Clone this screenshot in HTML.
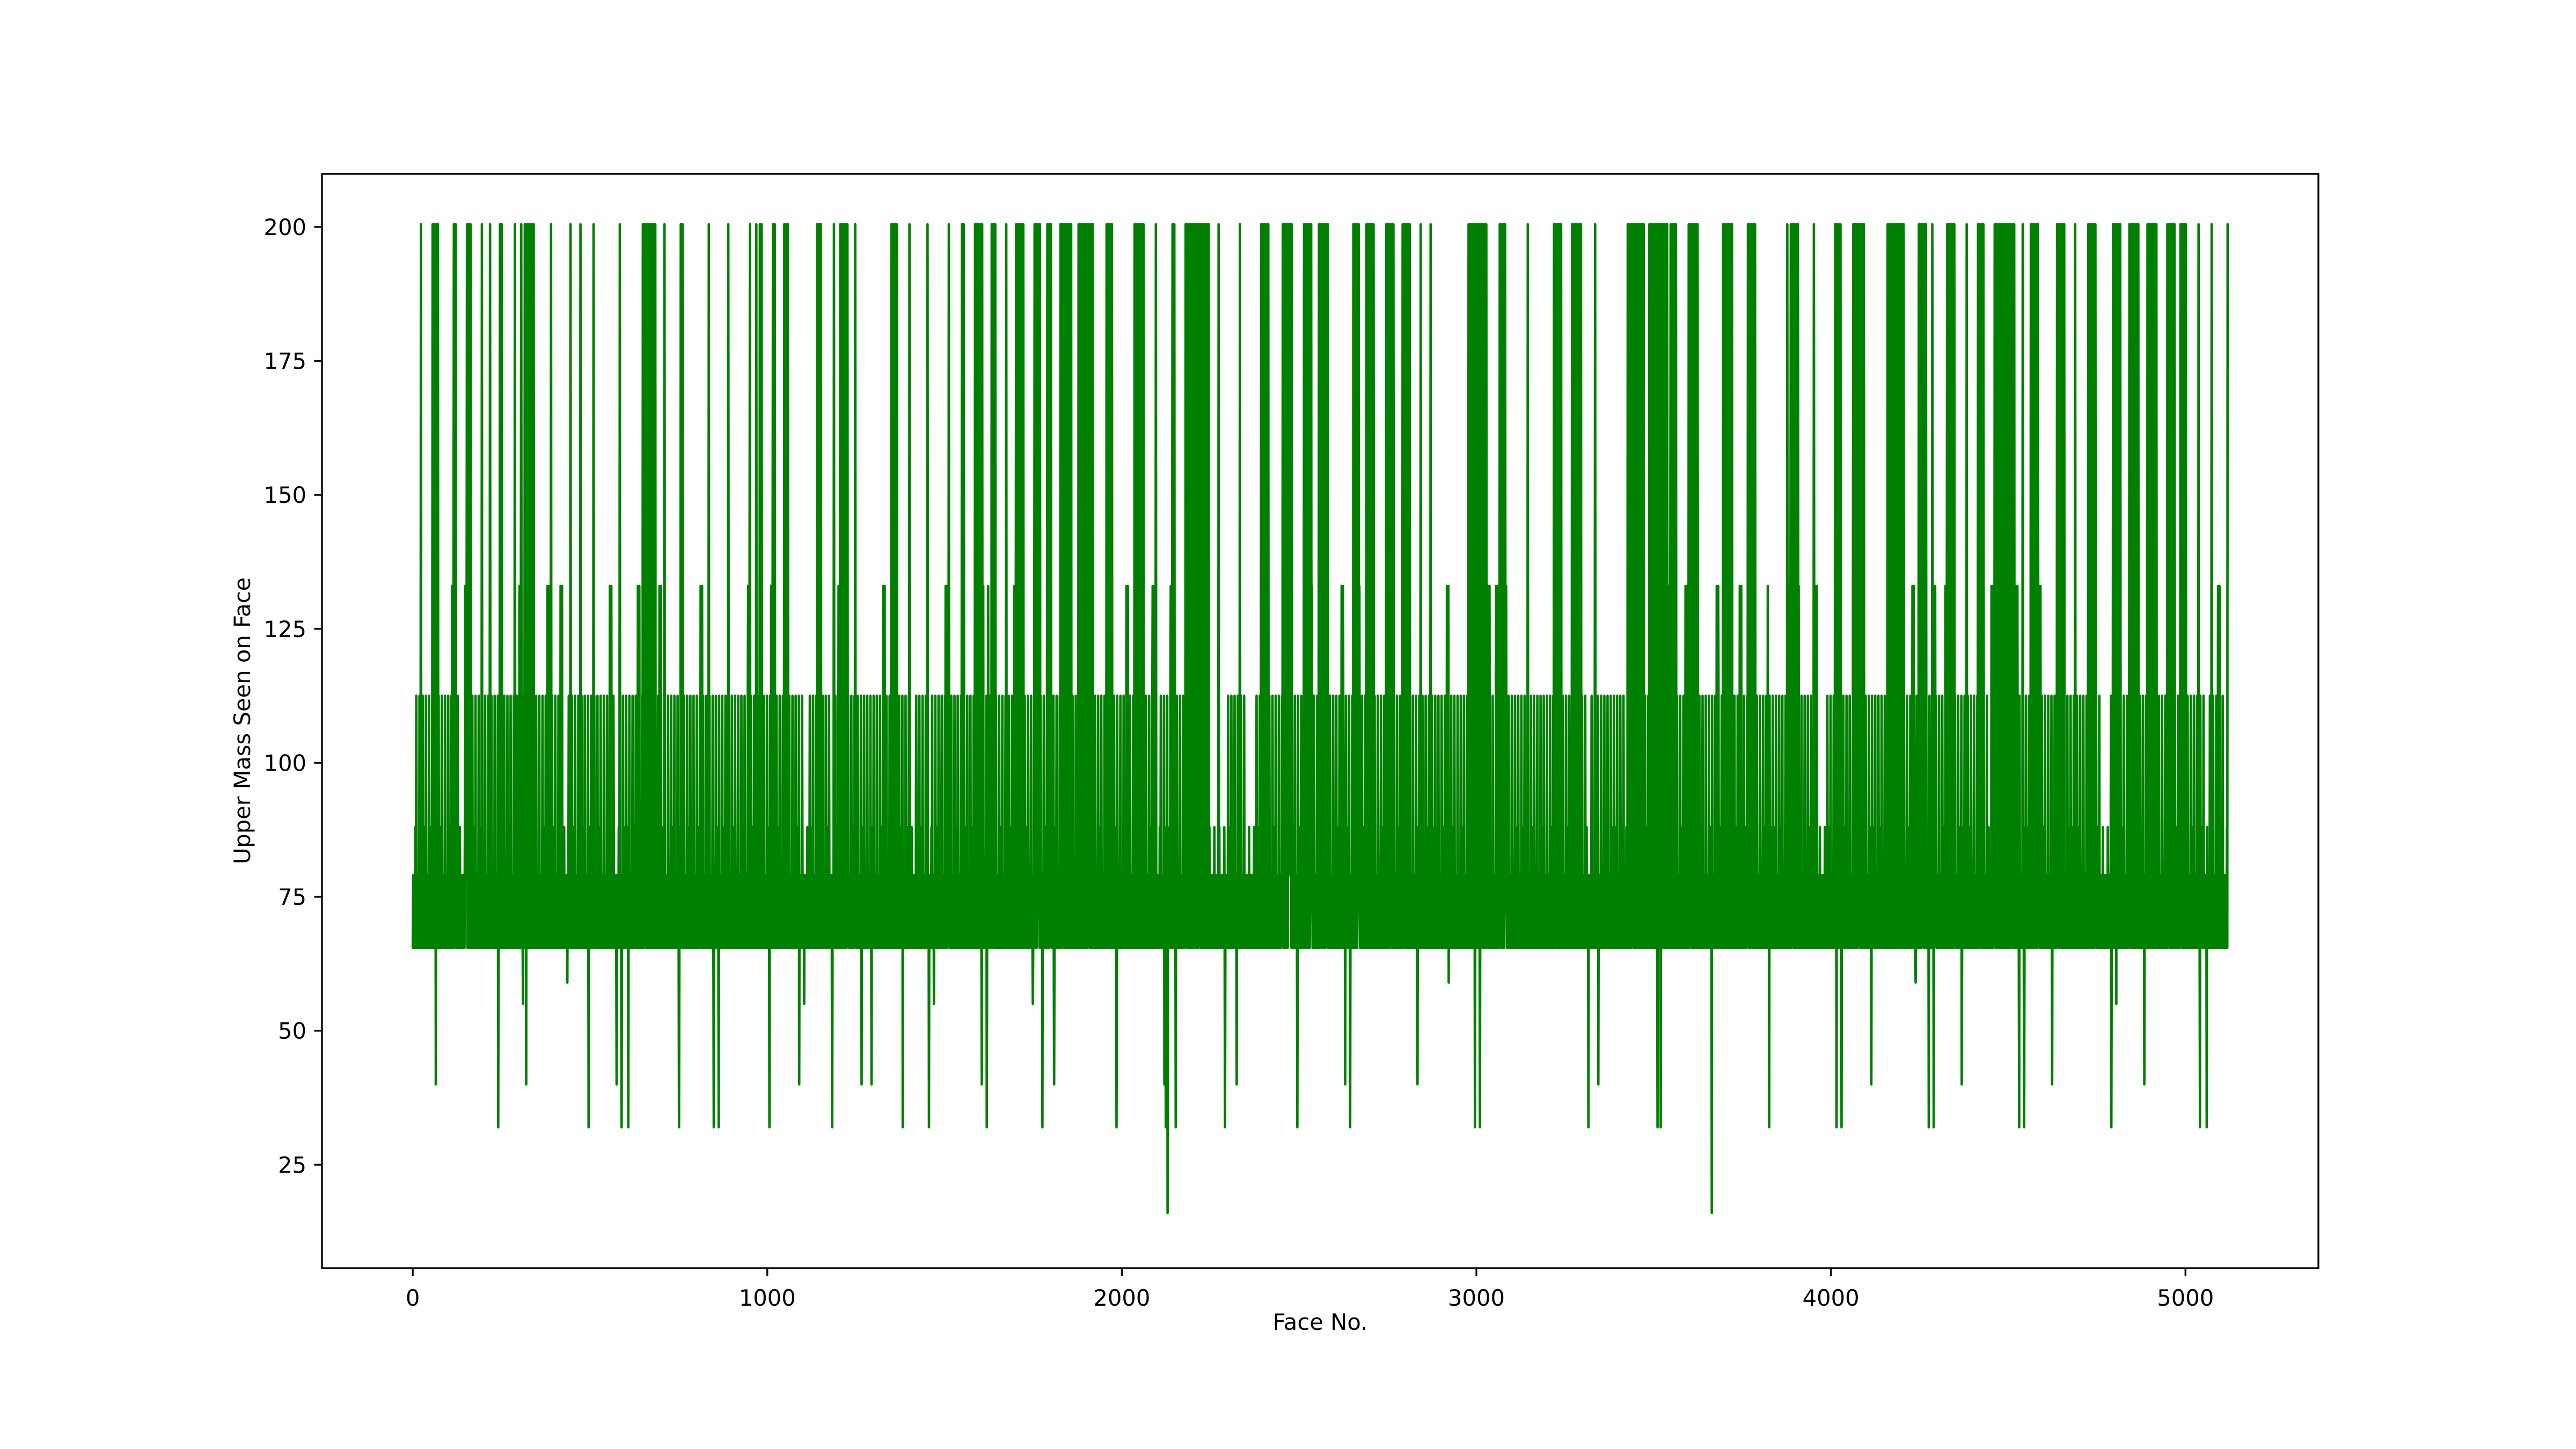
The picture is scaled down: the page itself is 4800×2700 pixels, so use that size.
<!DOCTYPE html>
<html><head><meta charset="utf-8"><style>
html,body{margin:0;padding:0;background:#fff;}
svg{display:block;}
text{font-family:"DejaVu Sans","Liberation Sans",sans-serif;font-size:41.7px;fill:#000;}
</style></head><body>
<svg id="chart" width="4800" height="2700" viewBox="0 0 4800 2700" xmlns="http://www.w3.org/2000/svg">
<rect x="0" y="0" width="4800" height="2700" fill="#fff"/>
<g id="plot"></g>
<g id="axes"></g>
<text x="2460" y="2478" text-anchor="middle">Face No.</text>
<text transform="translate(466,1343) rotate(-90)" text-anchor="middle">Upper Mass Seen on Face</text>
</svg>
<script>
// ---- data ----
const faceCount = 5120;
const basePattern = [65.5, 79, 65.5, 79, 65.5, 79, 65.5, 88, 65.5, 79, 65.5, 79, 65.5, 79];
const xTicks = [0, 1000, 2000, 3000, 4000, 5000];
const yTicks = [25, 50, 75, 100, 125, 150, 175, 200];
// bursts of spikes to 200.5: [startFace, endFace]
const burst200 = [[23,23],[56,74],[111,125],[148,167],[195,195],[218,218],[246,255],[288,288],[306,343],[390,390],[417,417],[445,445],[473,473],[510,510],[584,584],[649,686],[710,710],[756,765],[835,835],[890,890],[946,955],[969,969],[979,988],[1006,1025],[1048,1062],[1090,1090],[1141,1155],[1183,1192],[1206,1229],[1248,1248],[1350,1368],[1401,1401],[1452,1452],[1512,1512],[1549,1558],[1586,1609],[1633,1647],[1674,1674],[1697,1725],[1749,1772],[1790,1804],[1827,1860],[1878,1920],[1957,1976],[2036,2064],[2096,2096],[2138,2152],[2180,2245],[2273,2273],[2333,2333],[2393,2416],[2454,2481],[2514,2537],[2556,2583],[2620,2620],[2653,2672],[2690,2713],[2746,2769],[2792,2815],[2843,2843],[2871,2871],[2917,2917],[2978,3029],[3066,3084],[3145,3145],[3219,3242],[3270,3298],[3335,3335],[3427,3474],[3488,3567],[3599,3627],[3696,3724],[3766,3789],[3826,3826],[3877,3910],[3952,3952],[4012,4030],[4063,4095],[4160,4207],[4248,4272],[4286,4286],[4323,4350],[4383,4383],[4415,4434],[4462,4517],[4541,4541],[4564,4587],[4638,4661],[4689,4689],[4726,4749],[4796,4819],[4842,4870],[4893,4921],[4949,4972],[4986,5004],[5037,5037],[5074,5074],[5119,5119]];
const level200 = 200.5;
// bursts of spikes to 112.5
const burst112 = [[10,130],[150,420],[440,700],[720,1100],[1120,1400],[1420,2090],[2110,2250],[2300,2350],[2380,3000],[3010,3420],[3440,3960],[3990,4440],[4460,4760],[4790,5110]];
const level112 = 112.5;
// spikes to 133
const faces133 = [111,148,301,380,417,556,635,696,812,946,1011,1201,1327,1503,1605,1619,1697,1762,1911,2013,2087,2138,2472,2532,2620,2666,2755,2917,3033,3056,3080,3543,3590,3678,3743,3822,3882,3905,3956,4077,4230,4290,4323,4453,4522,4587,4800,4963,5092];
const level133 = 133;
// dips below the band
const dipFaces = [65,241,311,320,436,496,575,589,608,751,849,863,1006,1090,1104,1183,1266,1294,1382,1456,1470,1605,1619,1749,1776,1809,1985,2120,2124,2129,2152,2291,2324,2495,2630,2644,2834,2922,2996,3010,3316,3344,3511,3520,3664,3826,4016,4030,4114,4239,4276,4290,4369,4531,4545,4624,4791,4805,4884,5041,5060];
const dipValues = [40,32,55,40,59,32,40,32,32,32,32,32,32,40,55,32,40,40,32,32,55,40,32,55,32,40,32,40,32,16,32,32,40,32,40,32,40,59,32,32,32,40,32,32,16,32,32,32,40,59,32,32,40,32,32,40,32,55,40,32,32];

// ---- axes functions ----
const L=600,R=4320,T=324,B=2363;
const xMin=-256,xMax=5375,yMin=5.7,yMax=209.9;
const sx=v=>L+(v-xMin)/(xMax-xMin)*(R-L);
const sy=v=>B-(v-yMin)/(yMax-yMin)*(B-T);

// build series
const vals=[];
for(let i=0;i<faceCount;i++) vals.push(basePattern[i%basePattern.length]);
burst112.forEach(([a,b])=>{for(let i=a;i<=b;i+=9) vals[i]=level112;});
burst200.forEach(([a,b])=>{for(let i=a;i<=b;i+=5) vals[Math.min(i,faceCount-1)]=level200;});
faces133.forEach(f=>{vals[f]=level133;vals[f+4]=level133;});
dipFaces.forEach((f,k)=>{vals[f]=dipValues[k];});

const NS='http://www.w3.org/2000/svg';
const plot=document.getElementById('plot');
let pts='';
for(let i=0;i<faceCount;i++) pts+=sx(i).toFixed(2)+','+sy(vals[i]).toFixed(2)+' ';
const line=document.createElementNS(NS,'polyline');
line.setAttribute('points',pts);
line.setAttribute('fill','none');
line.setAttribute('stroke','#008000');
line.setAttribute('stroke-width','4.6');
line.setAttribute('stroke-linejoin','round');
line.setAttribute('stroke-linecap','round');


plot.appendChild(line);

const axes=document.getElementById('axes');
const frame=document.createElementNS(NS,'rect');
frame.setAttribute('x',L);frame.setAttribute('y',T);
frame.setAttribute('width',R-L);frame.setAttribute('height',B-T);
frame.setAttribute('fill','none');frame.setAttribute('stroke','#000');frame.setAttribute('stroke-width','3.3');


axes.appendChild(frame);

xTicks.forEach(t=>{
  const x=sx(t);
  const ln=document.createElementNS(NS,'line');
  ln.setAttribute('x1',x);ln.setAttribute('x2',x);ln.setAttribute('y1',B);ln.setAttribute('y2',B+14.6);
  ln.setAttribute('stroke','#000');ln.setAttribute('stroke-width','3.3');
  
  
  axes.appendChild(ln);
  const tx=document.createElementNS(NS,'text');
  tx.setAttribute('x',x);tx.setAttribute('y',B+70);tx.setAttribute('text-anchor','middle');
  tx.textContent=t;
  
  
  axes.appendChild(tx);
});
yTicks.forEach(t=>{
  const y=sy(t);
  const ln=document.createElementNS(NS,'line');
  ln.setAttribute('x1',L-14.6);ln.setAttribute('x2',L);ln.setAttribute('y1',y);ln.setAttribute('y2',y);
  ln.setAttribute('stroke','#000');ln.setAttribute('stroke-width','3.3');
  
  
  axes.appendChild(ln);
  const tx=document.createElementNS(NS,'text');
  tx.setAttribute('x',L-29);tx.setAttribute('y',y+15);tx.setAttribute('text-anchor','end');
  tx.textContent=t;
  
  
  axes.appendChild(tx);
});
</script>
</body></html>
